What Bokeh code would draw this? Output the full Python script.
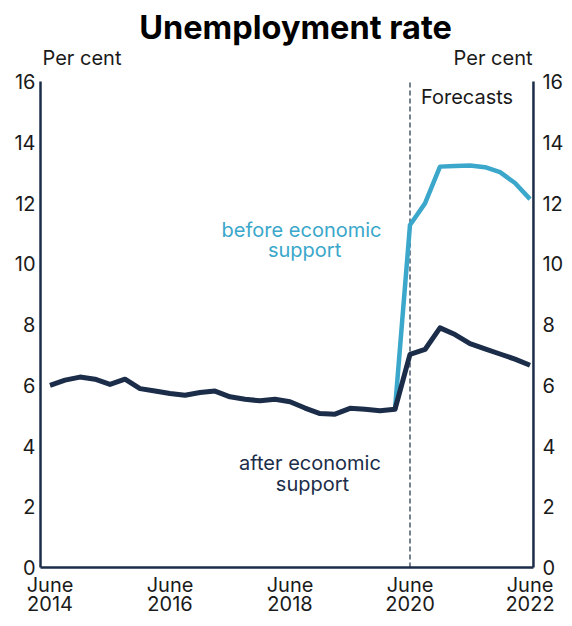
from bokeh.plotting import figure
from bokeh.models import Range1d, Label
from bokeh.core.properties import value
from bokeh.embed import file_html
from bokeh.resources import INLINE

# ---- data ----
quarters = ["Jun-2014", "Sep-2014", "Dec-2014", "Mar-2015", "Jun-2015", "Sep-2015",
            "Dec-2015", "Mar-2016", "Jun-2016", "Sep-2016", "Dec-2016", "Mar-2017",
            "Jun-2017", "Sep-2017", "Dec-2017", "Mar-2018", "Jun-2018", "Sep-2018",
            "Dec-2018", "Mar-2019", "Jun-2019", "Sep-2019", "Dec-2019", "Mar-2020",
            "Jun-2020", "Sep-2020", "Dec-2020", "Mar-2021", "Jun-2021", "Sep-2021",
            "Dec-2021", "Mar-2022", "Jun-2022"]
after_support = [6.0, 6.17, 6.27, 6.2, 6.03, 6.2, 5.89, 5.81, 5.73, 5.67, 5.76, 5.81,
                 5.62, 5.54, 5.49, 5.54, 5.46, 5.25, 5.07, 5.05, 5.24, 5.21, 5.16, 5.21,
                 7.02, 7.18, 7.89, 7.67, 7.37, 7.2, 7.03, 6.86, 6.66]
before_quarters = ["Mar-2020", "Jun-2020", "Sep-2020", "Dec-2020", "Mar-2021",
                   "Jun-2021", "Sep-2021", "Dec-2021", "Mar-2022", "Jun-2022"]
before_support = [5.21, 11.28, 11.99, 13.2, 13.22, 13.24, 13.18, 13.02, 12.66, 12.13]
forecast_start = "Jun-2020"
tick_quarters = ["Jun-2014", "Jun-2016", "Jun-2018", "Jun-2020", "Jun-2022"]
tick_months = ["June", "June", "June", "June", "June"]
tick_years = ["2014", "2016", "2018", "2020", "2022"]
y_ticks = [0, 2, 4, 6, 8, 10, 12, 14, 16]
y_min, y_max = 0, 16

idx = {q: i for i, q in enumerate(quarters)}
x_after = [idx[q] for q in quarters]
x_before = [idx[q] for q in before_quarters]
x_ticks = [idx[q] for q in tick_quarters]
y_tick_text = [str(v) for v in y_ticks]

DARK = "#1b2d49"
LIGHT = "#3aa7cb"
TXT = "#1a1a1a"
FONT = "Inter"
FS = "20px"

# axis-line extents (in quarter units) and view ranges (frame = whole canvas)
ax_left, ax_right = -0.633, 32.23
p = figure(width=564, height=618, output_backend="svg", toolbar_location=None,
           x_range=Range1d(-3.3, 34.3), y_range=Range1d(-1.679, 18.67),
           min_border=0, x_axis_location=None, y_axis_location=None)
p.outline_line_color = None
p.grid.grid_line_color = None
p.background_fill_color = "white"
p.border_fill_color = "white"

# axis lines
p.segment(x0=[ax_left, ax_right, ax_left], y0=[y_min, y_min, y_min],
          x1=[ax_left, ax_right, ax_right], y1=[y_max, y_max, y_min],
          line_color=DARK, line_width=2.5)

txt_kw = dict(text_font=value(FONT), text_font_size=FS, text_color=TXT,
              text_baseline="middle")
# y tick labels, left and right
p.text(x=[-0.967] * len(y_ticks), y=y_ticks, text=y_tick_text, text_align="right", **txt_kw)
p.text(x=[32.83] * len(y_ticks), y=y_ticks, text=y_tick_text, text_align="left", **txt_kw)
# x tick labels (two rows)
p.text(x=x_ticks, y=[-0.56] * len(x_ticks), text=tick_months, text_align="center", **txt_kw)
p.text(x=x_ticks, y=[-1.185] * len(x_ticks), text=tick_years, text_align="center", **txt_kw)

# forecast divider
fx = idx[forecast_start]
p.segment(x0=[fx], y0=[y_min], x1=[fx], y1=[y_max], line_color=DARK, line_width=1.2,
          line_dash="5 3")

p.line(x_before, before_support, line_color=LIGHT, line_width=4.5, line_join="round")
p.line(x_after, after_support, line_color=DARK, line_width=5, line_join="round")

def lab(x, y, text, color=TXT, size=FS, align="center", style="normal", xo=0):
    p.add_layout(Label(x=x, y=y, text=text, text_color=color, text_font=FONT,
                       text_font_size=size, text_align=align, text_baseline="middle",
                       text_font_style=style, x_offset=xo))

lab(16.77, 11.1, "before economic", LIGHT)
lab(16.97, 10.44, "support", LIGHT)
lab(17.33, 3.43, "after economic", DARK)
lab(17.5, 2.74, "support", DARK)
lab(fx, 15.48, "Forecasts", TXT, align="left", xo=11)

lab(-0.5, 16.79, "Per cent", TXT, align="left")
lab(32.17, 16.79, "Per cent", TXT, align="right")
lab(16.37, 17.77, "Unemployment rate", "#000000", size="32.5px", style="bold")

open("out.html", "w").write(file_html(p, INLINE))
